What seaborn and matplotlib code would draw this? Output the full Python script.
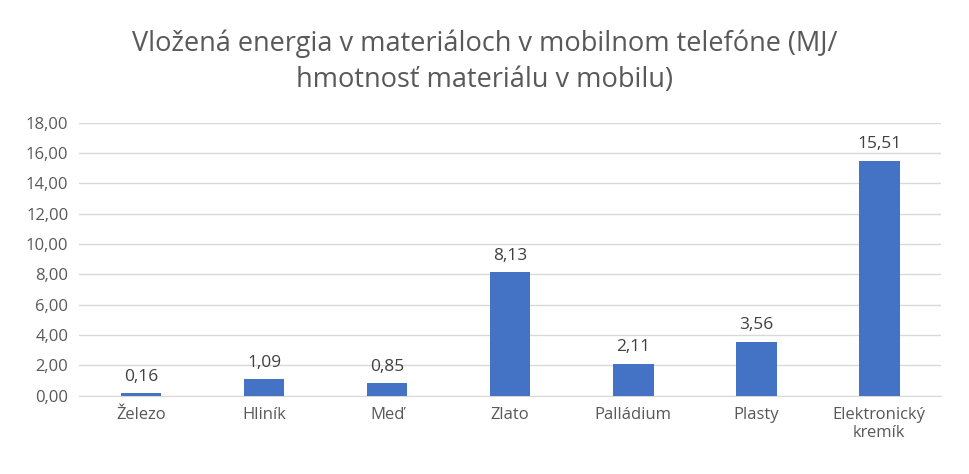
import pandas as pd
import matplotlib
matplotlib.use("Agg")
import matplotlib.pyplot as plt
import seaborn as sns

categories = ["Železo", "Hliník", "Meď", "Zlato", "Palládium", "Plasty", "Elektronický\nkremík"]
values = [0.16, 1.09, 0.85, 8.13, 2.11, 3.56, 15.51]

plt.rcParams.update({"font.family": "sans-serif", "font.sans-serif": ["Open Sans", "DejaVu Sans"]})

df = pd.DataFrame({"cat": categories, "val": values})
fig = plt.figure(figsize=(9.69, 4.74), dpi=100)
ax = fig.add_axes([0.082, 0.165, 0.889, 0.576])
sns.barplot(data=df, x="cat", y="val", color="#4472C4", width=0.33, saturation=1, ax=ax, zorder=3)

ax.set_ylim(0, 18)
ax.set_yticks([i * 2 for i in range(10)])
ax.set_yticklabels([f"{i*2:.2f}".replace(".", ",") for i in range(10)])
ax.grid(axis="y", color="#D9D9D9", linewidth=1, zorder=0)
for s in ["top", "right", "left"]:
    ax.spines[s].set_visible(False)
ax.spines["bottom"].set_color("#D9D9D9")
ax.tick_params(length=0, labelsize=12, colors="#595959", pad=8)
ax.set_xlabel("")
ax.set_ylabel("")
for c in ax.containers:
    ax.bar_label(c, labels=[f"{v:.2f}".replace(".", ",") for v in values],
                 padding=6, fontsize=12.5, color="#404040")

fig.text(0.5, 0.87, "Vložená energia v materiáloch v mobilnom telefóne (MJ/\nhmotnosť materiálu v mobilu)",
         ha="center", va="center", fontsize=19.5, color="#595959", linespacing=1.35)
fig.savefig("out.png", dpi=100)
